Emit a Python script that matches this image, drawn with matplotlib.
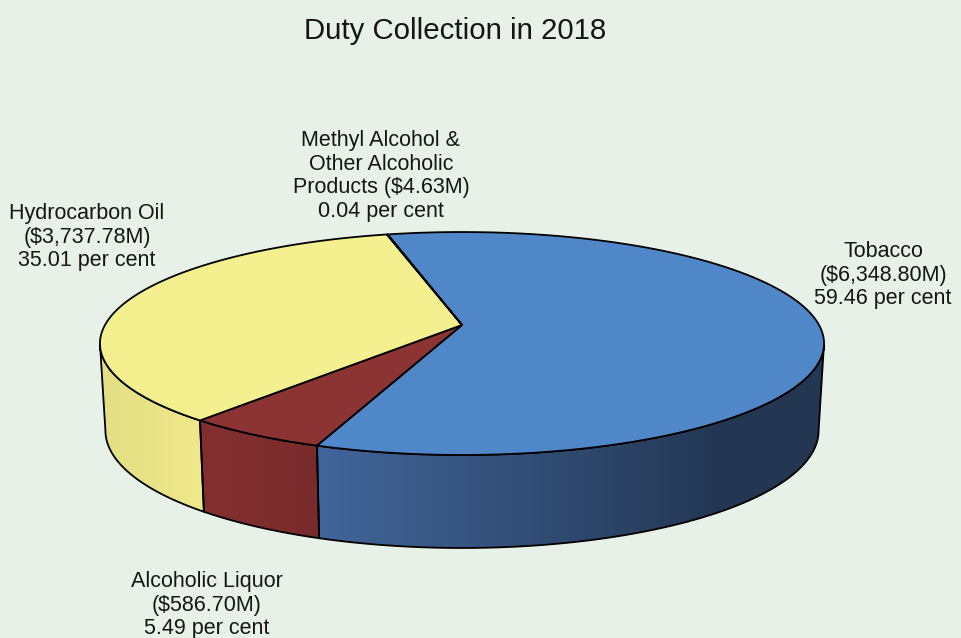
import numpy as np
import matplotlib.pyplot as plt
from matplotlib.patches import Polygon
from matplotlib.colors import to_rgb

plt.rcParams['font.family'] = ['Liberation Sans', 'DejaVu Sans']

# duty collected in 2018, clockwise from the top of the pie
names = ["Tobacco\n", "Alcoholic Liquor\n", "Hydrocarbon Oil\n",
         "Methyl Alcohol &\nOther Alcoholic\nProducts "]
duty_m = [6348.80, 586.70, 3737.78, 4.63]
share = [59.46, 5.49, 35.01, 0.04]

top_colors = ["#4f87c9", "#8c3333", "#f4f08f", "#6aa86a"]
side_colors = ["#476ea7", "#842f2f", "#efe98b", "#5f965f"]
label_xy = [(883, 275), (207, 605), (87, 237), (381, 176)]

bg = "#e8f1e8"

# pie geometry in pixel space, tilted disc seen in perspective
cx, cy = 462, 325          # projected centre of the disc
A, B = 357, 108.4          # radii before the perspective divide
e = 0.166                  # perspective strength (far side shrinks)
d0, d1 = 85.8, 7.2         # wall height, a bit taller at the front
shrink = 0.985             # bottom rim slightly narrower
start = 104.0

# lighting across the side wall
shade_x = [95, 200, 318, 600, 720, 830]
shade_f = [0.95, 1.0, 0.92, 0.63, 0.5, 0.5]


def top_pt(t):
    t = np.radians(t)
    w = 1 + e * np.sin(t)
    return cx + A * np.cos(t) / w, cy - B * np.sin(t) / w


def bot_pt(t):
    x, y = top_pt(t)
    s = np.sin(np.radians(t))
    return cx + (x - cx) * shrink, y + d0 - d1 * s


fig = plt.figure(figsize=(9.62, 6.38), dpi=100, facecolor=bg)
ax = fig.add_axes([0, 0, 1, 1])
ax.set_facecolor(bg)

bounds = start - np.cumsum([0] + list(share)) * 3.6

# silhouette of the wall: where the rim is widest on screen
sil = np.degrees(np.arcsin(e))
front = (-180 + sil, -sil)

for i in range(len(share)):
    t_hi, t_lo = bounds[i], bounds[i + 1]

    # front side wall, only the part facing the viewer
    for k in (-360, 0, 360):
        lo, hi = max(t_lo, front[0] + k), min(t_hi, front[1] + k)
        if hi - lo <= 0.05:
            continue
        ts = np.linspace(hi, lo, 150)
        tx, ty = top_pt(ts)
        bx, by = bot_pt(ts[::-1])
        pts = np.column_stack([np.concatenate([tx, bx]), np.concatenate([ty, by])])

        xs = np.linspace(95, 830, 400)
        base = np.array(to_rgb(side_colors[i]))
        row = np.clip(base[None, :] * np.interp(xs, shade_x, shade_f)[:, None], 0, 1)
        img = np.stack([row, row])
        im = ax.imshow(img, extent=(95, 830, 560, 330), aspect='auto',
                       interpolation='bilinear', zorder=1)
        clip = Polygon(pts, closed=True, transform=ax.transData)
        im.set_clip_path(clip)
        ax.add_patch(Polygon(pts, closed=True, facecolor='none',
                             edgecolor='black', lw=1.3, zorder=2))

    # top face
    ts = np.linspace(t_hi, t_lo, max(int(abs(t_hi - t_lo)) * 2, 2))
    tx, ty = top_pt(ts)
    pts = np.column_stack([np.concatenate([[cx], tx]),
                           np.concatenate([[cy], ty])])
    ax.add_patch(Polygon(pts, closed=True, facecolor=top_colors[i],
                         edgecolor='black', lw=1.3, joinstyle='round', zorder=3))

    txt = names[i] + "(\\${:,.2f}M)\n{:.2f} per cent".format(duty_m[i], share[i])
    ax.text(label_xy[i][0], label_xy[i][1], txt, ha='center', va='center',
            fontsize=15.5, linespacing=1.15, color='#151515', zorder=4)

ax.text(455, 31, "Duty Collection in 2018", ha='center', va='center',
        fontsize=21.2, color='#151515')

ax.set_xlim(0, 962)
ax.set_ylim(638, 0)
ax.axis('off')

fig.savefig("out.png", dpi=100, facecolor=bg)
